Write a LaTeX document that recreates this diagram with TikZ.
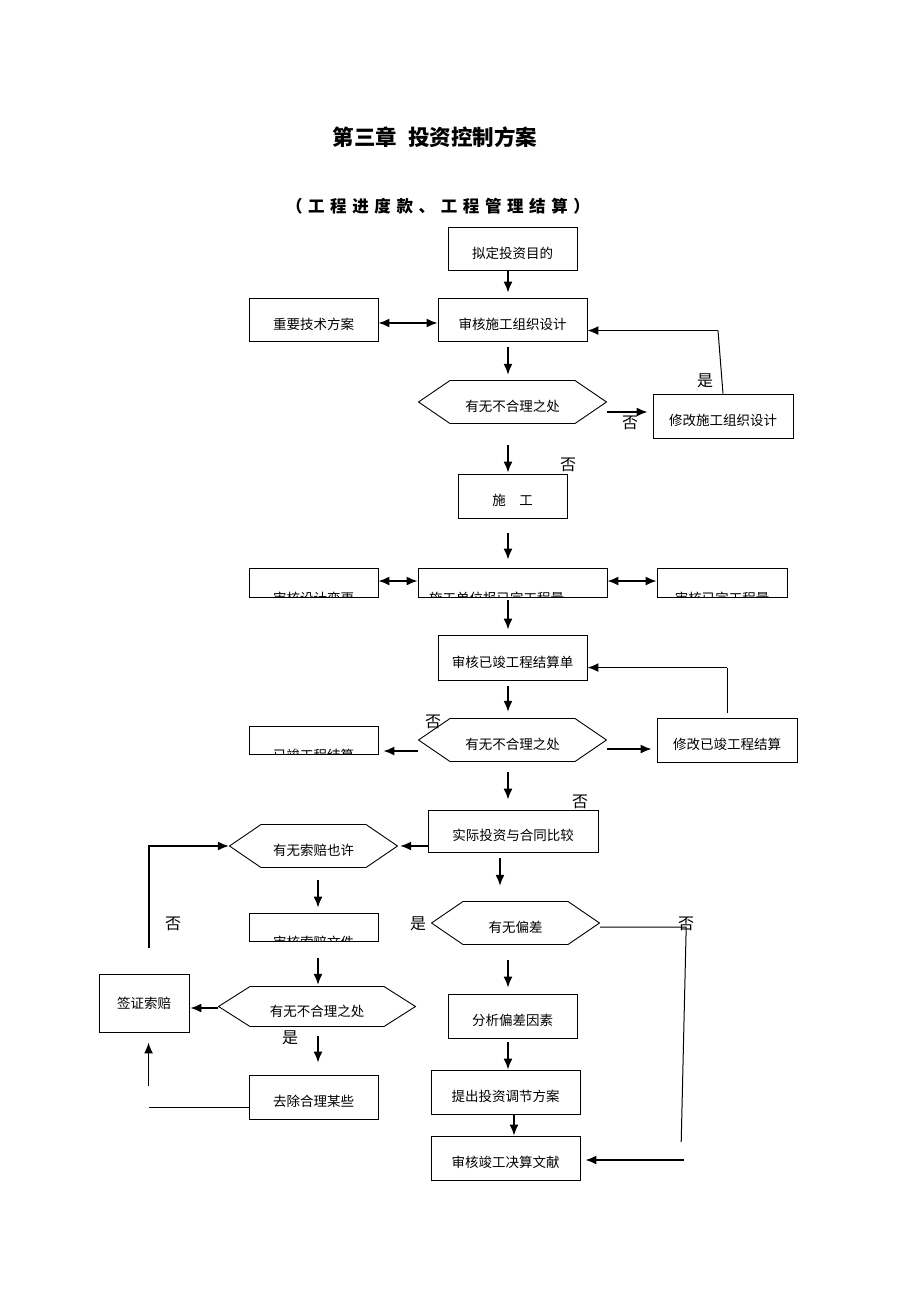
\documentclass[tikz,border=0pt]{standalone}
\usepackage{fontspec}
\setmainfont{Noto Sans CJK SC}
\usetikzlibrary{arrows.meta, positioning, calc}

\newcommand{\boxfont}{\fontsize{13.5}{16}\selectfont}
\newcommand{\lblfont}{\fontsize{16}{18}\selectfont}

\begin{document}
\begin{tikzpicture}[
    x=1pt, y=-1pt,
    box/.style={draw, line width=0.9pt, inner sep=0pt, minimum height=43pt, font=\boxfont, text height=19pt, text depth=0pt},
    cutbox/.style 2 args={box, minimum height=29pt, path picture={\node[anchor=base, inner sep=0pt, font=\boxfont] at ([xshift=#1, yshift=-6.5pt]path picture bounding box.south) {#2};}},
    hexbox/.style={fill=white, inner sep=0pt, minimum height=44pt, font=\boxfont, text height=19pt, text depth=0pt,
        path picture={\draw[line width=0.9pt] ([xshift=0.5pt]path picture bounding box.west) -- ([xshift=32pt, yshift=-0.5pt]path picture bounding box.north west) -- ([xshift=-32pt, yshift=-0.5pt]path picture bounding box.north east) -- ([xshift=-0.5pt]path picture bounding box.east) -- ([xshift=-32pt, yshift=0.5pt]path picture bounding box.south east) -- ([xshift=32pt, yshift=0.5pt]path picture bounding box.south west) -- cycle;}},
    lbl/.style={inner sep=0pt, font=\lblfont},
    arrow/.style={-{Latex[length=11pt, width=9pt]}, line width=1.5pt},
    dblarrow/.style={{Latex[length=11pt, width=9pt]}-{Latex[length=11pt, width=9pt]}, line width=1.5pt},
    line/.style={line width=1pt}
]
    \useasboundingbox (0,0) rectangle (920,1302);

    % titles
    \node[font=\fontsize{21.5}{26}\selectfont\bfseries] (title) at (435,137) {第三章\hspace{0.5em}投资控制方案};
    \node[font=\fontsize{16.5}{20}\selectfont\bfseries\addfontfeature{LetterSpace=34}] (subtitle) at (438,206) {（工程进度款、工程管理结算）};

    % upper part
    \node[box, minimum width=129pt] (aim) at (512.5,249) {拟定投资目的};
    \node[box, minimum width=129pt] (tech) at (313.5,319.5) {重要技术方案};
    \node[box, minimum width=149pt] (org) at (512.5,319.5) {审核施工组织设计};
    \node[hexbox, minimum width=189pt] (hexA) at (512.5,402) {有无不合理之处};
    \node[box, minimum width=140pt, minimum height=44pt] (modA) at (723,416) {修改施工组织设计};
    \node[box, minimum width=109pt, minimum height=44pt] (build) at (512.5,496) {施　工};

    % clipped row
    \node[cutbox={0pt}{审核设计变更}, minimum width=129pt] (cutL) at (313.5,582.5) {};
    \node[cutbox={-16pt}{施工单位报已完工程量}, minimum width=189pt] (cutC) at (512.5,582.5) {};
    \node[cutbox={0pt}{审核已完工程量}, minimum width=130pt] (cutR) at (722,582.5) {};

    % settlement
    \node[box, minimum width=149pt, minimum height=45pt] (chk) at (512.5,657.5) {审核已竣工程结算单};
    \node[hexbox, minimum width=189pt] (hexB) at (512.5,740) {有无不合理之处};
    \node[box, minimum width=140pt, minimum height=44pt] (modB) at (727,740) {修改已竣工程结算};
    \node[cutbox={0pt}{已竣工程结算}, minimum width=129pt, minimum height=28pt] (cutD) at (313.5,740) {};

    % comparison
    \node[box, minimum width=170pt, minimum height=42pt] (cmp) at (513,831) {实际投资与合同比较};
    \node[hexbox, minimum width=169pt] (hexC) at (313.5,846) {有无索赔也许};
    \node[hexbox, minimum width=169pt] (hexD) at (515.5,923) {有无偏差};
    \node[cutbox={0pt}{审核索赔文件}, minimum width=129pt, minimum height=28pt] (cutE) at (313.5,927) {};
    \node[hexbox, minimum width=198pt, minimum height=41pt] (hexE) at (317,1006.5) {有无不合理之处};
    \node[box, minimum width=90pt, minimum height=58pt, text height=10pt] (visa) at (144,1003) {签证索赔};
    \node[box, minimum width=129pt, minimum height=44pt] (remove) at (313.5,1097) {去除合理某些};
    \node[box, minimum width=129pt, minimum height=44pt] (ana) at (512.5,1016) {分析偏差因素};
    \node[box, minimum width=149pt, minimum height=44pt] (prop) at (505.5,1092) {提出投资调节方案};
    \node[box, minimum width=149pt, minimum height=44pt] (audit) at (505.5,1158) {审核竣工决算文献};

    % connectors
    \draw[arrow, shorten >=5pt] ([xshift=-4.5pt]aim.south) -- ([xshift=-4.5pt]aim.south |- org.north);
    \draw[dblarrow] ([yshift=-3.5pt]tech.east) -- ([yshift=-3.5pt]org.west);
    \draw[arrow, shorten <=6pt, shorten >=5pt] ([xshift=-4.5pt]org.south) -- ([xshift=-4.5pt]org.south |- hexA.north);
    \draw[arrow, shorten >=5pt] ([yshift=-10pt]hexA.east) -- ([yshift=-10pt]hexA.east -| modA.west);
    \draw[line] (modA.north) -- ++(-5,-63) coordinate (bendA);
    \draw[arrow] (bendA) -- (bendA -| org.east);
    \draw[arrow, shorten <=21pt, shorten >=1pt] ([xshift=-4.5pt]hexA.south) -- ([xshift=-4.5pt]hexA.south |- build.north);
    \draw[arrow, shorten <=15pt, shorten >=8pt] ([xshift=-4.5pt]build.south) -- ([xshift=-4.5pt]build.south |- cutC.north);
    \draw[dblarrow] ([yshift=1.5pt]cutL.east) -- ([yshift=1.5pt]cutC.west);
    \draw[dblarrow] ([yshift=1.5pt]cutC.east) -- ([yshift=1.5pt]cutR.west);
    \draw[arrow, shorten <=3pt, shorten >=5pt] ([xshift=-4.5pt]cutC.south) -- ([xshift=-4.5pt]cutC.south |- chk.north);
    \draw[arrow, shorten <=6pt, shorten >=6pt] ([xshift=-4.5pt]chk.south) -- ([xshift=-4.5pt]chk.south |- hexB.north);
    \draw[line] ([yshift=5pt]modB.north) -- ++(0,-45) coordinate (bendB);
    \draw[arrow] (bendB) -- (bendB -| chk.east);
    \draw[arrow, shorten >=5pt] ([yshift=-9pt]hexB.east) -- ([yshift=-9pt]hexB.east -| modB.west);
    \draw[arrow, shorten >=5pt] ([yshift=-11pt]hexB.west) -- ([yshift=-11pt]hexB.west -| cutD.east);
    \draw[arrow, shorten <=10pt, shorten >=10pt] ([xshift=-4.5pt]hexB.south) -- ([xshift=-4.5pt]hexB.south |- cmp.north);
    \draw[arrow, shorten >=2pt] ([yshift=-15pt]cmp.west) -- ([yshift=-15pt]cmp.west -| hexC.east);
    \draw[arrow, shorten <=6pt, shorten >=15pt] ([xshift=-13pt]cmp.south) -- ([xshift=-13pt]cmp.south |- hexD.north);
    \draw[line] ([yshift=-4pt]hexD.east) -- ++(86,0) -- ++(-5,215);
    \coordinate (tailD) at (684,1160);
    \draw[arrow, shorten >=5pt] (tailD) -- (tailD -| audit.east);
    \draw[arrow, shorten <=12pt, shorten >=5pt] ([xshift=4.5pt]hexC.south) -- ([xshift=4.5pt]hexC.south |- cutE.north);
    \draw[arrow, shorten <=17pt, shorten >=1pt] ([xshift=4.5pt]cutE.south) -- ([xshift=4.5pt]cutE.south |- hexE.north);
    \draw[arrow, shorten >=1pt] ([yshift=-1.5pt]hexE.west) -- ([yshift=-1.5pt]hexE.west -| visa.east);
    \draw[arrow, shorten <=9pt, shorten >=12pt] ([xshift=1pt]hexE.south) -- ([xshift=1pt]hexE.south |- remove.north);
    \draw[line] ([yshift=-10pt]remove.west) -- ++(-100,0) coordinate (tailR);
    \draw[arrow, shorten >=10pt] ([yshift=21pt]tailR) -- (tailR |- visa.south);
    \draw[arrow] ([xshift=5pt, yshift=26pt]visa.north) |- (hexC.west);
    \draw[arrow, shorten <=15pt, shorten >=6pt] ([xshift=-7.5pt]hexD.south) -- ([xshift=-7.5pt]hexD.south |- ana.north);
    \draw[arrow, shorten <=4pt] ([xshift=-4.5pt]ana.south) -- ([xshift=-4.5pt]ana.south |- prop.north);
    \draw[arrow] ([xshift=8.5pt]prop.south) -- ([xshift=8.5pt]prop.south |- audit.north);

    % yes / no labels
    \node[lbl] (yesA) at (705,381) {是};
    \node[lbl] (noA) at (630,423) {否};
    \node[lbl] (noB) at (568,465) {否};
    \node[lbl] (noC) at (433,722) {否};
    \node[lbl] (noD) at (580,802) {否};
    \node[lbl] (yesD) at (418,924) {是};
    \node[lbl] (noE) at (686,924) {否};
    \node[lbl] (noF) at (173,924) {否};
    \node[lbl] (yesE) at (290,1038) {是};
\end{tikzpicture}
\end{document}
